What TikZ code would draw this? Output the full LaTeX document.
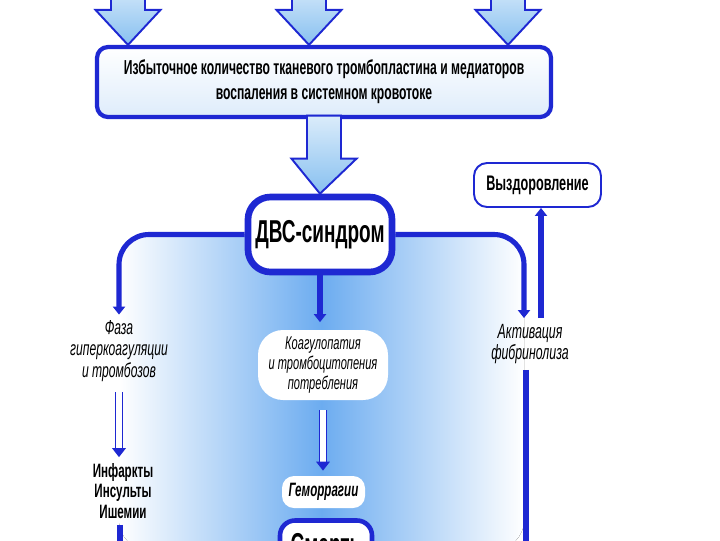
\documentclass[tikz,border=0pt]{standalone}
\usepackage{fontspec}
\setmainfont{Liberation Sans}[FakeStretch=0.6]
\usetikzlibrary{arrows.meta,positioning,calc,backgrounds}
\definecolor{dvsblue}{RGB}{30,40,210}
\definecolor{skyblue}{RGB}{108,172,240}
\definecolor{paleblue}{RGB}{222,236,251}
\definecolor{arrowfill}{RGB}{135,192,240}
\tikzset{
  srcbox/.style={draw=dvsblue, line width=2.4pt, rounded corners=2.2mm,
    top color=white, bottom color=paleblue, minimum width=90.8mm,
    minimum height=14mm, align=center,
    font=\fontsize{11.5}{14.2}\selectfont\bfseries},
  dvsbox/.style={draw=dvsblue, line width=3.8pt, rounded corners=4.5mm,
    fill=white, minimum width=28.8mm, minimum height=15mm,
    font=\fontsize{18}{20}\selectfont\bfseries},
  recbox/.style={draw=dvsblue, line width=1.1pt, rounded corners=2.6mm,
    fill=white, minimum width=25.4mm, minimum height=8.8mm,
    font=\fontsize{12}{13}\selectfont\bfseries},
  softbox/.style={fill=white, rounded corners=5mm, align=center, inner sep=1mm},
  lbl/.style={align=center, font=\fontsize{11.5}{12}\selectfont\itshape},
  flow/.style={draw=dvsblue, line width=2.9pt, -{Triangle[length=1.6mm,width=2.4mm]}},
  hflow/.style={draw=dvsblue, double=white, line width=1pt, double distance=3pt,
    -{Triangle[length=1.8mm,width=2.7mm]}},
  blockarrow/.style={draw=dvsblue, line width=1.1pt, line join=miter,
    top color=arrowfill!30!white, bottom color=arrowfill},
  bgshade/.style={left color=white, right color=white, middle color=skyblue}
}
% block arrow pointing down: #1 = top of shaft, #2 = tip
\newcommand{\blockdown}[2]{%
  \path[blockarrow] let \p1=(#1), \p2=(#2) in
    (\x1-3.4mm,\y1) -- (\x1+3.4mm,\y1) -- (\x1+3.4mm,\y2+7mm)
    -- (\x1+6.5mm,\y2+7mm) -- (\x2,\y2) -- (\x1-6.5mm,\y2+7mm)
    -- (\x1-3.4mm,\y2+7mm) -- cycle;}

\begin{document}
\begin{tikzpicture}[x=0.2mm, y=-0.2mm]
  \useasboundingbox (0,0) rectangle (720,540);

  % top part
  \node[srcbox] (src) at (324,82)
    {Избыточное количество тканевого тромбопластина и медиаторов\\
     воспаления в системном кровотоке};
  \node[dvsbox] (dvs) at (320,234.5) {ДВС-синдром};
  \node[recbox] (rec) at (537.5,185) {Выздоровление};

  % three branches
  \node[lbl] (faza) at (119,351) {Фаза\\гиперкоагуляции\\и тромбозов};
  \node[lbl, font=\fontsize{11}{11.7}\selectfont\bfseries] (inf) at (123,491)
    {Инфаркты\\Инсульты\\Ишемии};
  \node[softbox, minimum width=26mm, minimum height=14mm,
    font=\fontsize{10.5}{11.4}\selectfont\itshape] (coag) at (323,365)
    {Коагулопатия\\и тромбоцитопения\\потребления};
  \node[softbox, rounded corners=2.4mm, minimum width=16.6mm, minimum height=6.4mm,
    font=\fontsize{11}{12}\selectfont\bfseries\itshape] (hem) at (323.5,492) {Геморрагии};
  \node[dvsbox, line width=2.6pt, rounded corners=3mm, minimum width=18.4mm,
    minimum height=11mm] (death) at (326,548) {Смерть};
  \node[lbl, font=\fontsize{11.7}{12}\selectfont\itshape] (act) at (530,344)
    {Активация\\фибринолиза};

  \coordinate (in1) at (128,-20);
  \coordinate (in2) at (309,-20);
  \coordinate (in3) at (508,-20);
  \coordinate (infout) at (120,550);
  \coordinate (actout) at (526,550);

  % block arrows
  \blockdown{in1}{in1 |- src.north}
  \blockdown{in2}{in2 |- src.north}
  \blockdown{in3}{in3 |- src.north}
  \blockdown{[yshift=2pt]src.south}{dvs.north}

  % connectors
  \draw[flow, rounded corners=6mm] (dvs.west) -| (faza.north);
  \draw[flow, rounded corners=6mm] (dvs.east) -| ([xshift=-1.2mm]act.north);
  \draw[flow, shorten >=1.5mm] (dvs.south) -- (dvs.south |- coag.north);
  \draw[flow] ([xshift=2.2mm]act.north) -- ([xshift=2.2mm]act.north |- rec.south);
  \draw[hflow, shorten <=1mm] (faza.south) -- (faza.south |- inf.north);
  \draw[hflow, shorten <=2mm, shorten >=1mm] (coag.south) -- (coag.south |- hem.north);
  \draw[flow] (inf.south -| infout) -- (infout);
  \draw[flow] (act.south -| actout) -- (actout);

  \begin{scope}[on background layer]
    \fill[bgshade, rounded corners=6mm] (faza.north |- infout) |- (dvs.center)
      -| ([xshift=-1.2mm]act.north |- actout) -- cycle;
  \end{scope}
\end{tikzpicture}
\end{document}
